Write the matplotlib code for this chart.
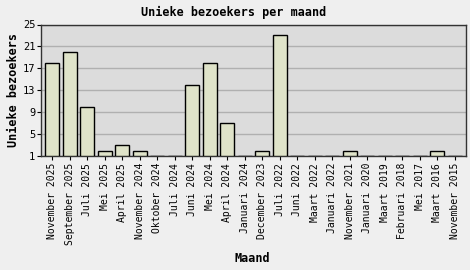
import matplotlib
matplotlib.use("Agg")
import matplotlib.pyplot as plt

months = ["November 2025", "September 2025", "Juli 2025", "Mei 2025", "April 2025",
          "November 2024", "Oktober 2024", "Juli 2024", "Juni 2024", "Mei 2024",
          "April 2024", "Januari 2024", "December 2023", "Juli 2022", "Juni 2022",
          "Maart 2022", "Januari 2022", "November 2021", "Januari 2020", "Maart 2019",
          "Februari 2018", "Mei 2017", "Maart 2016", "November 2015"]
visitors = [18, 20, 10, 2, 3, 2, 1, 1, 14, 18, 7, 1, 2, 23, 1, 1, 1, 2, 1, 1, 1, 1, 2, 1]
yticks = [1, 5, 9, 13, 17, 21, 25]

plt.rcParams['font.family'] = ['DejaVu Sans Mono']

fig = plt.figure(figsize=(4.7, 2.7), dpi=100, facecolor="#efefef")
ax = fig.add_axes([41/470, 1-156/270, 425/470, 131.5/270])
ax.set_facecolor("#dcdcdc")

x = list(range(len(months)))
base = yticks[0]
ax.bar(x, [v - base for v in visitors], bottom=base, width=0.8,
       color="#dfe3c9", edgecolor="black", linewidth=1.0, zorder=3)

ax.set_xlim(-0.65, len(months) - 0.35)
ax.set_ylim(yticks[0], yticks[-1])
ax.set_yticks(yticks)
ax.set_xticks(x)
ax.set_xticklabels(months, rotation=90, fontsize=7)
ax.tick_params(axis='y', labelsize=7.5, length=3, pad=1)
ax.tick_params(axis='x', length=3, pad=2)
ax.yaxis.grid(True, color="#b0b0b0", linewidth=1, zorder=0)
ax.set_axisbelow(True)
for s in ax.spines.values():
    s.set_color("#333333")
    s.set_linewidth(1)

ax.set_ylabel("Unieke bezoekers", fontsize=8.5, fontweight="bold", labelpad=2)
fig.text(234/470, 1-12/270, "Unieke bezoekers per maand", ha="center", va="center",
         fontsize=8.5, fontweight="bold")
fig.text(252/470, 1-258/270, "Maand", ha="center", va="center",
         fontsize=8.5, fontweight="bold")

fig.savefig("out.png", dpi=100, facecolor=fig.get_facecolor())
